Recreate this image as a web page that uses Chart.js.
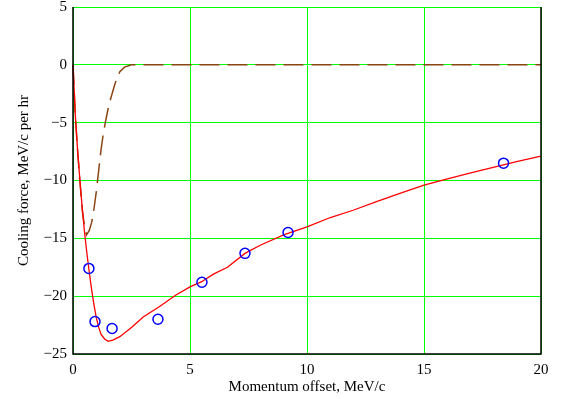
<!DOCTYPE html>
<html>
<head>
<meta charset="utf-8">
<script src="https://cdn.jsdelivr.net/npm/chart.js@4"></script>
<style>
  html, body { margin: 0; padding: 0; background: #fff; }
  #wrap { width: 561px; height: 399px; }
</style>
</head>
<body>
<div id="wrap"><canvas id="chart" width="561" height="399"></canvas></div>
<script>
// curva calculada (roja)
const calcX = [0, 0.05, 0.1, 0.2, 0.3, 0.4, 0.5, 0.6, 0.7, 0.8, 0.9, 1.0, 1.1, 1.2, 1.35, 1.5, 1.7, 2.0, 2.5, 3, 3.7, 4.4, 5, 5.5, 6, 6.6, 7.35, 8, 9, 10, 11, 12, 13, 14, 15, 16, 17, 18, 19, 20];
const calcY = [0, -2.2, -4.4, -7.5, -10.1, -12.5, -14.6, -16.4, -18.0, -19.5, -20.8, -21.9, -22.7, -23.3, -23.7, -23.9, -23.8, -23.5, -22.7, -21.8, -20.9, -19.9, -19.2, -18.75, -18.1, -17.5, -16.3, -15.6, -14.7, -14.0, -13.2, -12.55, -11.8, -11.1, -10.4, -9.85, -9.35, -8.85, -8.35, -7.9];

// curva discontinua (marrón)
const dashX = [0, 0.1, 0.2, 0.3, 0.4, 0.5, 0.58, 0.7, 0.8, 0.9, 1.0, 1.1, 1.2, 1.3, 1.4, 1.5, 1.6, 1.8, 2.0, 2.2, 2.5, 3, 20];
const dashY = [0, -4.4, -7.5, -10.2, -12.6, -14.1, -14.7, -14.3, -13.6, -12.4, -10.9, -9.1, -7.3, -5.9, -4.8, -3.8, -3.0, -1.6, -0.6, -0.2, 0, 0, 0];

// medidas (círculos azules)
const measX = [0.68, 0.94, 1.67, 3.63, 5.51, 7.35, 9.19, 18.4];
const measY = [-17.6, -22.2, -22.8, -22.0, -18.8, -16.3, -14.5, -8.5];

const xTicks = [0, 5, 10, 15, 20];
const yTicks = [5, 0, -5, -10, -15, -20, -25];

const toPts = (xs, ys) => xs.map((x, i) => ({ x: x, y: ys[i] }));

const FONT = '"Liberation Serif", "Times New Roman", serif';
Chart.defaults.font.family = FONT;
Chart.defaults.font.size = 15;
Chart.defaults.color = '#000';

// marco negro izquierda / abajo / derecha
const framePlugin = {
  id: 'frame',
  afterDatasetsDraw(chart) {
    const { ctx, chartArea: a } = chart;
    ctx.save();
    ctx.strokeStyle = '#000';
    ctx.lineWidth = 1.5;
    ctx.beginPath();
    ctx.moveTo(a.left, a.top);
    ctx.lineTo(a.left, a.bottom);
    ctx.lineTo(a.right, a.bottom);
    ctx.lineTo(a.right, a.top);
    ctx.stroke();
    ctx.restore();
  }
};

new Chart(document.getElementById('chart').getContext('2d'), {
  type: 'scatter',
  data: {
    datasets: [
      {
        data: toPts(measX, measY),
        showLine: false,
        pointRadius: 5,
        pointBorderWidth: 1.5,
        pointBorderColor: '#0000ff',
        pointBackgroundColor: 'rgba(0,0,0,0)',
        order: 0
      },
      {
        data: toPts(calcX, calcY),
        showLine: true,
        borderColor: '#ff0000',
        borderWidth: 1.3,
        pointRadius: 0,
        tension: 0,
        order: 1
      },
      {
        data: toPts(dashX, dashY),
        showLine: true,
        borderColor: '#8b4513',
        borderWidth: 1.5,
        borderDash: [20, 8],
        pointRadius: 0,
        tension: 0,
        order: 2
      }
    ]
  },
  options: {
    responsive: false,
    animation: false,
    clip: false,
    layout: { padding: { top: 7, right: 20, left: 0, bottom: 0 } },
    plugins: { legend: { display: false }, tooltip: { enabled: false } },
    scales: {
      x: {
        type: 'linear',
        min: 0, max: 20,
        afterFit: (s) => { s.height = 45; s.paddingLeft = 0; s.paddingRight = 0; },
        afterBuildTicks: (s) => { s.ticks = xTicks.map(v => ({ value: v })); },
        grid: { color: '#00ff00', lineWidth: 1, drawTicks: false },
        border: { display: false },
        ticks: { padding: 7, maxRotation: 0, callback: (v) => String(v).replace('-', '\u2212') },
        title: { display: true, text: 'Momentum offset, MeV/c', padding: { top: 0, bottom: 3 } }
      },
      y: {
        type: 'linear',
        min: -25, max: 5,
        afterFit: (s) => { s.width = 73; s.paddingTop = 0; s.paddingBottom = 0; },
        afterBuildTicks: (s) => { s.ticks = yTicks.map(v => ({ value: v })); },
        grid: { color: '#00ff00', lineWidth: 1, drawTicks: false },
        border: { display: false },
        ticks: { padding: 6, callback: (v) => String(v).replace('-', '\u2212') },
        title: { display: true, text: 'Cooling force, MeV/c per hr', padding: { top: 15, bottom: 0 } }
      }
    }
  },
  plugins: [framePlugin]
});
</script>
</body>
</html>
